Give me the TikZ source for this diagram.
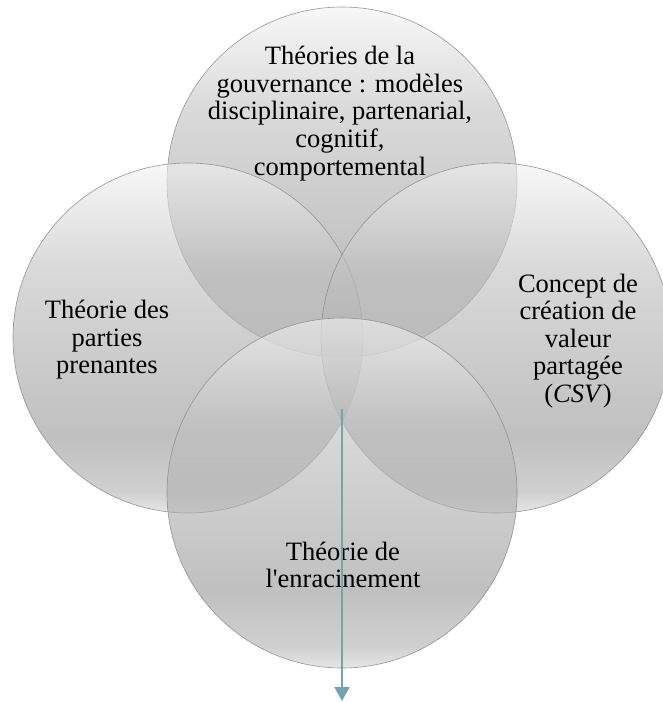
\documentclass[tikz,border=0pt]{standalone}
\usepackage{fontspec}
\setmainfont{Liberation Serif}[Ligatures=TeXOff]
\usetikzlibrary{arrows.meta}
\definecolor{rim}{HTML}{8C8C8C}
\definecolor{arrowc}{HTML}{6EA4B4}
\pgfdeclareverticalshading{circshade}{100bp}{%
  color(0bp)=(black!16);
  color(25bp)=(black!16);
  color(28bp)=(black!30);
  color(36bp)=(black!40);
  color(60bp)=(black!24);
  color(75bp)=(black!5);
  color(100bp)=(black!5)}
\tikzset{
  circ/.style={circle, minimum size=350pt, inner sep=0pt, draw=rim, line width=0.6pt,
     shading=circshade, fill opacity=0.62, draw opacity=0.9},
  lbl/.style={align=center, inner sep=0pt, text opacity=1,
     font=\fontsize{26.5}{27.6}\selectfont},
  conn/.style={draw=arrowc, line width=2pt, -{Triangle[length=14pt,width=15pt]}}
}
\begin{document}
\begin{tikzpicture}[x=1pt,y=-1pt]
\useasboundingbox (0,0) rectangle (663,702);
\begin{scope}
\clip (0,0) rectangle (663,702);
\node[circ] (ctop) at (342,182) {};
\node[circ] (cleft) at (188,338) {};
\node[circ] (cright) at (496,338) {};
\node[circ] (cbot) at (342,493) {};
\end{scope}
\node[lbl] (ttop) at (340,113.5) {Théories de la\\gouvernance : modèles\\disciplinaire, partenarial,\\cognitif,\\comportemental};
\node[lbl] (tleft) at (107,340) {Théorie des\\parties\\prenantes};
\node[lbl] (tright) at (578,341) {Concept de\\création de\\valeur\\partagée\\(\textit{CSV})};
\node[lbl] (tbot) at (343,565) {Théorie de\\l'enracinement};
\coordinate (astart) at (342,409);
\coordinate (aend) at (342,701);
\draw[conn] (astart) -- (aend);
\end{tikzpicture}
\end{document}
